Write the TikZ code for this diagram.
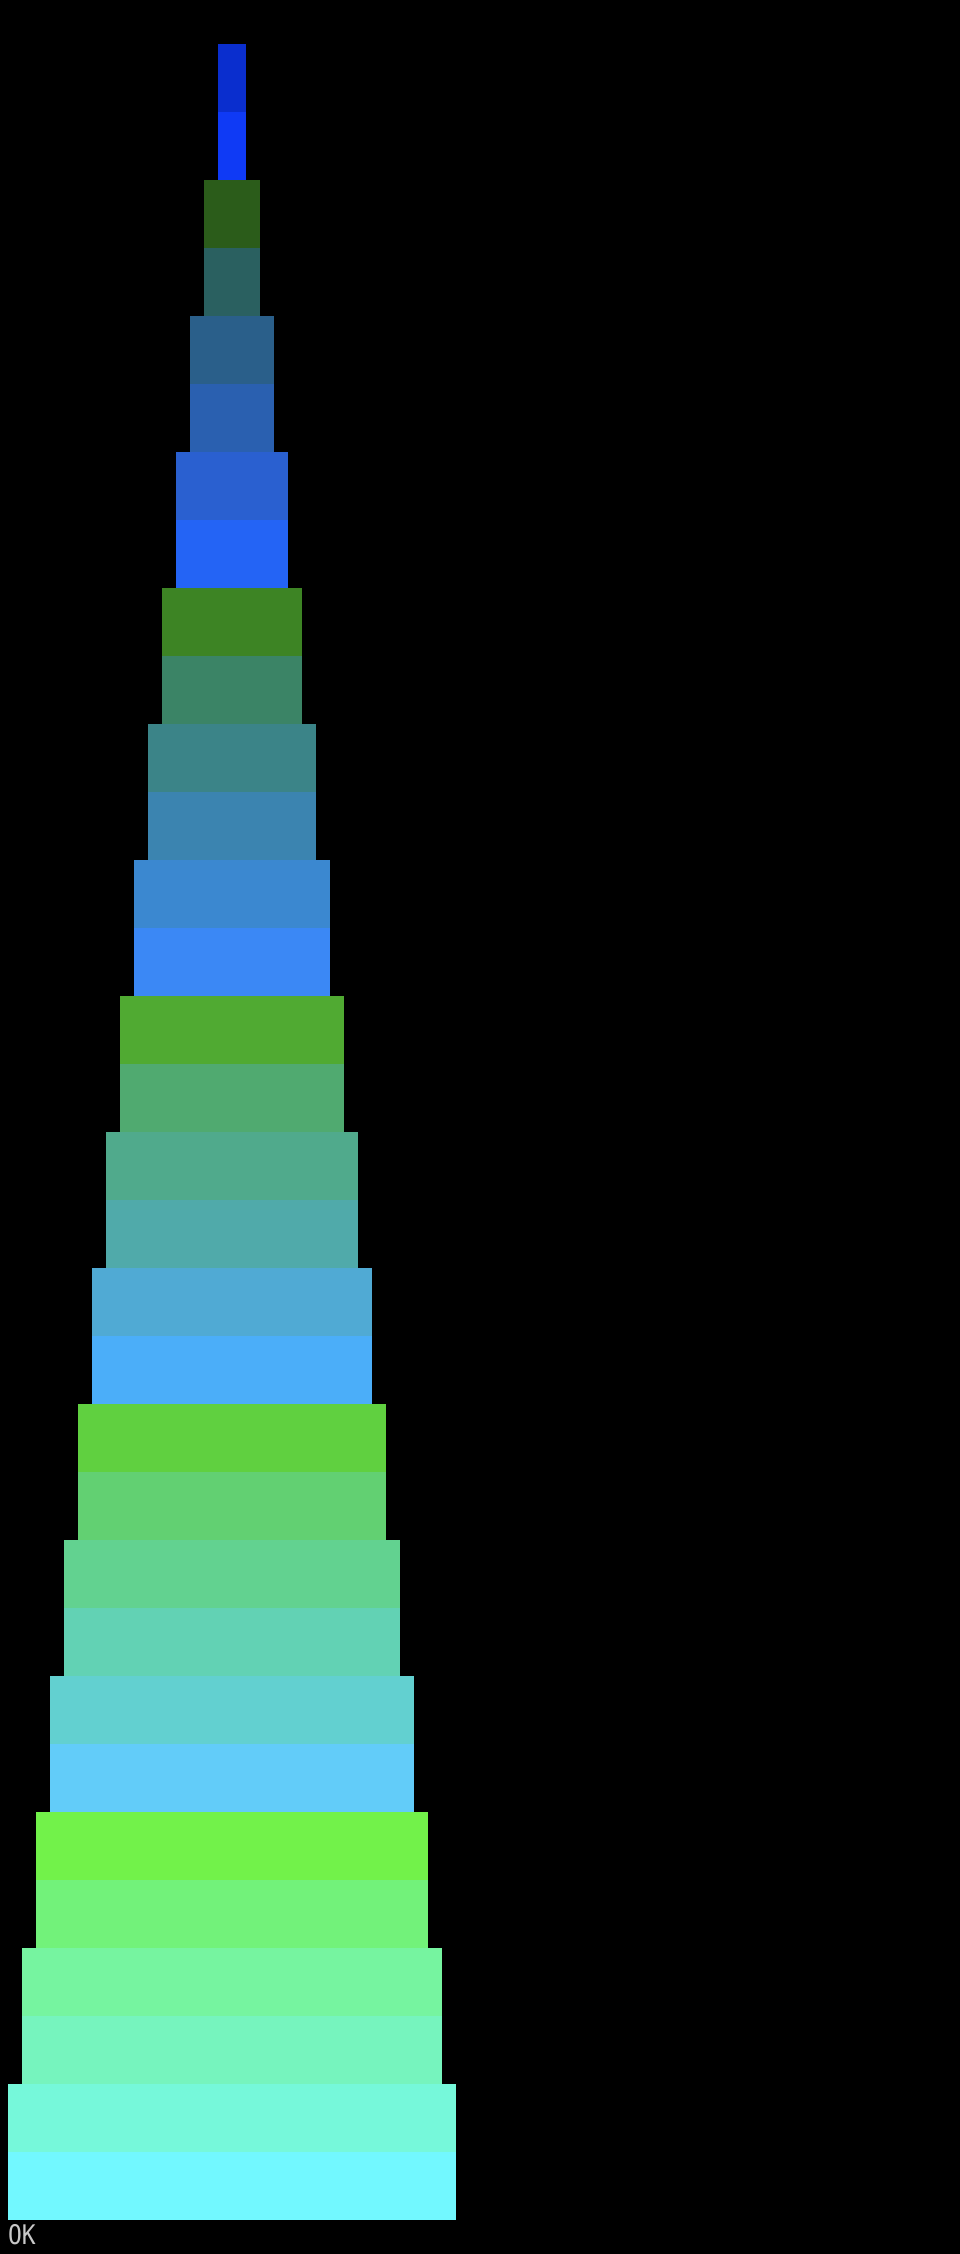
\documentclass[tikz,border=0pt]{standalone}
\usepackage{fontspec}
\newfontfamily\okfont{DejaVu Sans Mono}
\definecolor{c0}{HTML}{0A2ECE}
\definecolor{c1}{HTML}{0F3AF5}
\definecolor{c2}{HTML}{2B5C1A}
\definecolor{c3}{HTML}{2A6060}
\definecolor{c4}{HTML}{2A5F8A}
\definecolor{c5}{HTML}{2A60B0}
\definecolor{c6}{HTML}{2A60D0}
\definecolor{c7}{HTML}{2464F5}
\definecolor{c8}{HTML}{3D8424}
\definecolor{c9}{HTML}{3B8466}
\definecolor{c10}{HTML}{3B8488}
\definecolor{c11}{HTML}{3B84B0}
\definecolor{c12}{HTML}{3B88D0}
\definecolor{c13}{HTML}{3B88F5}
\definecolor{c14}{HTML}{50AA32}
\definecolor{c15}{HTML}{50AA70}
\definecolor{c16}{HTML}{50AA8C}
\definecolor{c17}{HTML}{50AAAA}
\definecolor{c18}{HTML}{50AAD4}
\definecolor{c19}{HTML}{4BAEF9}
\definecolor{c20}{HTML}{60D040}
\definecolor{c21}{HTML}{62D072}
\definecolor{c22}{HTML}{62D290}
\definecolor{c23}{HTML}{62D2B4}
\definecolor{c24}{HTML}{62D0D0}
\definecolor{c25}{HTML}{62CCF9}
\definecolor{c26}{HTML}{72F24A}
\definecolor{c27}{HTML}{72F27A}
\definecolor{c28}{HTML}{76F4A0}
\definecolor{c29}{HTML}{76F4BE}
\definecolor{c30}{HTML}{76F8DA}
\definecolor{c31}{HTML}{72F8FF}
\definecolor{oktext}{HTML}{C8C8C8}
\tikzset{
  stripe/.style={rectangle, inner sep=0pt, outer sep=0pt, draw=none, anchor=north, minimum height=68pt},
  oklabel/.style={anchor=north west, inner sep=0pt, text=oktext, font=\okfont\fontsize{27}{27}\selectfont}
}
\begin{document}
\begin{tikzpicture}[x=1pt,y=1pt]
\fill[black] (0,0) rectangle (960,-2254);
\useasboundingbox (0,0) rectangle (960,-2254);
\foreach \i in {0,...,31}{
  \pgfmathtruncatemacro{\pair}{int(\i/2)}
  \pgfmathsetmacro{\w}{28+28*\pair}
  \node[stripe, fill=c\i, minimum width=\w pt] (s\i) at (232,{-44-68*\i}) {};
}
\node[oklabel, xscale=0.85] (ok) at (8,-2224) {OK};
\end{tikzpicture}
\end{document}
